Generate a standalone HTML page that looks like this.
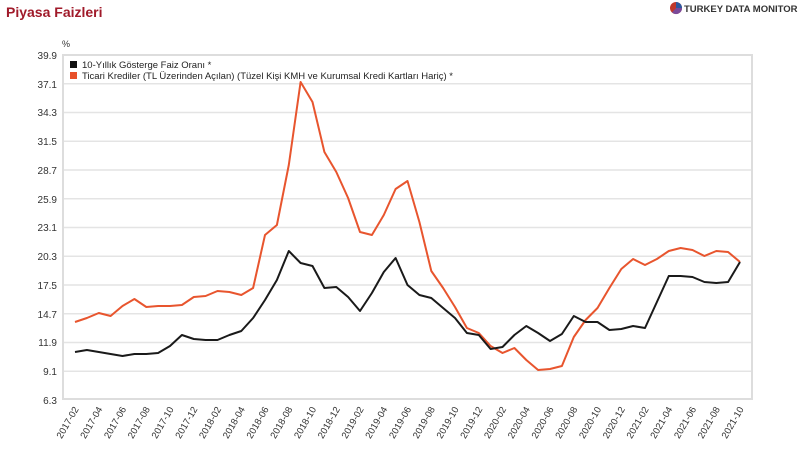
<!DOCTYPE html>
<html><head><meta charset="utf-8"><style>
html,body{margin:0;padding:0;background:#fff;width:800px;height:450px;overflow:hidden}
svg text{font-family:"Liberation Sans",sans-serif}
</style></head><body>
<svg width="800" height="450" xmlns="http://www.w3.org/2000/svg">
<text x="6" y="17" font-size="14" font-weight="bold" fill="#a01a2a">Piyasa Faizleri</text>
<circle cx="676" cy="8" r="6" fill="#c0392b"/><path d="M676 8 L676 2 A6 6 0 0 1 682 8Z" fill="#2c5aa0"/><path d="M676 8 L682 8 A6 6 0 0 1 672 12.5Z" fill="#7b4a9a"/>
<text x="684" y="12" font-size="9.5" font-weight="bold" fill="#333">TURKEY DATA MONITOR</text>
<g stroke="#e4e4e4" stroke-width="1.5">
<line x1="63" x2="752" y1="55" y2="55"/><line x1="63" x2="752" y1="83.75" y2="83.75"/><line x1="63" x2="752" y1="112.5" y2="112.5"/><line x1="63" x2="752" y1="141.25" y2="141.25"/><line x1="63" x2="752" y1="170" y2="170"/><line x1="63" x2="752" y1="198.75" y2="198.75"/><line x1="63" x2="752" y1="227.5" y2="227.5"/><line x1="63" x2="752" y1="256.25" y2="256.25"/><line x1="63" x2="752" y1="285" y2="285"/><line x1="63" x2="752" y1="313.75" y2="313.75"/><line x1="63" x2="752" y1="342.5" y2="342.5"/><line x1="63" x2="752" y1="371.25" y2="371.25"/>
</g>
<rect x="63" y="55" width="689" height="344" fill="none" stroke="#ddd" stroke-width="2"/>
<g font-size="10" fill="#333" text-anchor="end">
<text x="57" y="59">39.9</text><text x="57" y="88">37.1</text><text x="57" y="116">34.3</text><text x="57" y="145">31.5</text><text x="57" y="174">28.7</text><text x="57" y="203">25.9</text><text x="57" y="231">23.1</text><text x="57" y="260">20.3</text><text x="57" y="289">17.5</text><text x="57" y="318">14.7</text><text x="57" y="346">11.9</text><text x="57" y="375">9.1</text><text x="57" y="404">6.3</text>
</g>
<text x="62" y="47" font-size="9" fill="#333">%</text>
<rect x="70" y="61" width="7" height="7" fill="#111"/>
<text x="82" y="68" font-size="9.5" fill="#222">10-Yıllık Gösterge Faiz Oranı *</text>
<rect x="70" y="72" width="7" height="7" fill="#e8502a"/>
<text x="82" y="79" font-size="9.5" fill="#222">Ticari Krediler (TL Üzerinden Açılan) (Tüzel Kişi KMH ve Kurumsal Kredi Kartları Hariç) *</text>
<polyline fill="none" stroke="#e8552e" stroke-width="2" stroke-linejoin="round" points="75,322 86.9,318 98.8,313 110.6,316 122.5,306 134.4,299 146.3,307 158.1,306 170,306 181.9,305 193.8,297 205.6,296 217.5,291 229.4,292 241.3,295 253.1,288 265,235 276.9,225 288.8,165 300.6,82 312.5,102 324.4,152 336.3,172 348.1,198 360,232 371.9,235 383.8,215 395.6,189 407.5,181 419.4,222 431.3,271 443.1,288 455,307 466.9,328 478.8,333 490.6,346 502.5,353 514.4,348 526.3,360 538.1,370 550,369 561.9,366 573.8,337 585.6,320 597.5,308 609.4,288 621.3,269 633.1,259 645,265 656.9,259 668.8,251 680.6,248 692.5,250 704.4,256 716.3,251 728.1,252 740,262"/>
<polyline fill="none" stroke="#1a1a1a" stroke-width="2" stroke-linejoin="round" points="75,352 86.9,350 98.8,352 110.6,354 122.5,356 134.4,354 146.3,354 158.1,353 170,346 181.9,335 193.8,339 205.6,340 217.5,340 229.4,335 241.3,331 253.1,318 265,300 276.9,280 288.8,251 300.6,263 312.5,266 324.4,288 336.3,287 348.1,297 360,311 371.9,293 383.8,272 395.6,258 407.5,285 419.4,295 431.3,298 443.1,308 455,318 466.9,333 478.8,335 490.6,349 502.5,347 514.4,335 526.3,326 538.1,333 550,341 561.9,334 573.8,316 585.6,322 597.5,322 609.4,330 621.3,329 633.1,326 645,328 656.9,302 668.8,276 680.6,276 692.5,277 704.4,282 716.3,283 728.1,282 740,262"/>
<g font-size="9.5" fill="#333" text-anchor="end">
<text transform="translate(79,409) rotate(-60)">2017-02</text>
<text transform="translate(102.8,409) rotate(-60)">2017-04</text>
<text transform="translate(126.5,409) rotate(-60)">2017-06</text>
<text transform="translate(150.3,409) rotate(-60)">2017-08</text>
<text transform="translate(174,409) rotate(-60)">2017-10</text>
<text transform="translate(197.8,409) rotate(-60)">2017-12</text>
<text transform="translate(221.5,409) rotate(-60)">2018-02</text>
<text transform="translate(245.3,409) rotate(-60)">2018-04</text>
<text transform="translate(269,409) rotate(-60)">2018-06</text>
<text transform="translate(292.8,409) rotate(-60)">2018-08</text>
<text transform="translate(316.5,409) rotate(-60)">2018-10</text>
<text transform="translate(340.3,409) rotate(-60)">2018-12</text>
<text transform="translate(364,409) rotate(-60)">2019-02</text>
<text transform="translate(387.8,409) rotate(-60)">2019-04</text>
<text transform="translate(411.5,409) rotate(-60)">2019-06</text>
<text transform="translate(435.3,409) rotate(-60)">2019-08</text>
<text transform="translate(459,409) rotate(-60)">2019-10</text>
<text transform="translate(482.8,409) rotate(-60)">2019-12</text>
<text transform="translate(506.5,409) rotate(-60)">2020-02</text>
<text transform="translate(530.3,409) rotate(-60)">2020-04</text>
<text transform="translate(554,409) rotate(-60)">2020-06</text>
<text transform="translate(577.8,409) rotate(-60)">2020-08</text>
<text transform="translate(601.5,409) rotate(-60)">2020-10</text>
<text transform="translate(625.3,409) rotate(-60)">2020-12</text>
<text transform="translate(649,409) rotate(-60)">2021-02</text>
<text transform="translate(672.8,409) rotate(-60)">2021-04</text>
<text transform="translate(696.5,409) rotate(-60)">2021-06</text>
<text transform="translate(720.3,409) rotate(-60)">2021-08</text>
<text transform="translate(744,409) rotate(-60)">2021-10</text>
</g>
</svg>
</body></html>
